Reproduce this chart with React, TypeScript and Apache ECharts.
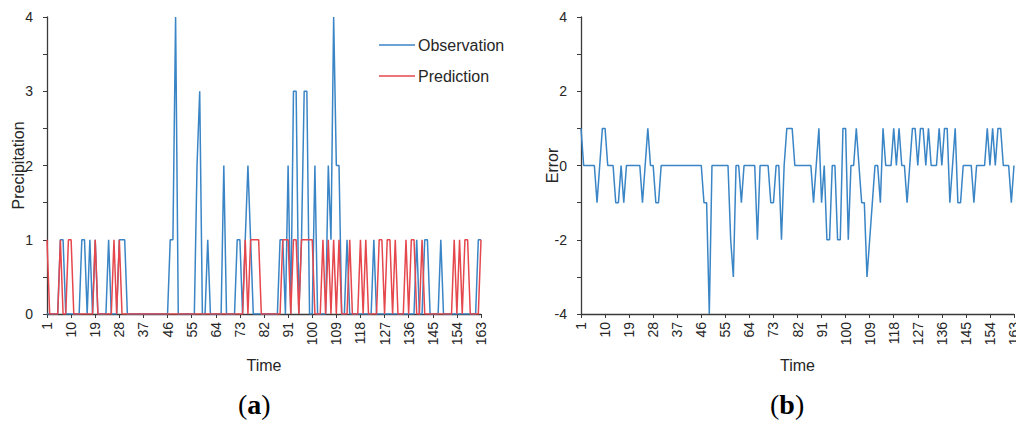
import React, { useEffect, useRef } from "react";
import * as echarts from "echarts";

// Time categories 1..163
const timeLabels: string[] = [];
for (let t = 1; t <= 163; t++) timeLabels.push(String(t));

// Observed precipitation (panel a, blue)
const observation = [
  0, 0, 0, 0, 0, 1, 1, 0, 0, 0,
  0, 0, 0, 1, 1, 0, 1, 0, 1, 0,
  0, 0, 0, 1, 0, 0, 0, 1, 1, 1,
  0, 0, 0, 0, 0, 0, 0, 0, 0, 0,
  0, 0, 0, 0, 0, 0, 1, 1, 4, 0,
  0, 0, 0, 0, 0, 0, 2, 3, 0, 0,
  1, 0, 0, 0, 0, 0, 2, 0, 0, 0,
  0, 1, 1, 0, 1, 2, 1, 0, 0, 0,
  0, 0, 0, 0, 0, 0, 0, 1, 1, 0,
  2, 0, 3, 3, 0, 1, 3, 3, 0, 0,
  2, 0, 0, 0, 0, 2, 1, 4, 2, 2,
  0, 0, 1, 0, 0, 0, 0, 0, 0, 0,
  0, 0, 1, 0, 0, 0, 0, 0, 0, 0,
  0, 0, 0, 0, 0, 0, 0, 0, 1, 0,
  0, 1, 1, 0, 0, 0, 0, 1, 0, 0,
  0, 0, 0, 0, 0, 0, 0, 0, 0, 0,
  0, 1, 1,
];

// Predicted precipitation (panel a, red)
const prediction = [
  1, 0, 0, 0, 0, 1, 0, 0, 1, 1,
  0, 0, 0, 0, 0, 0, 0, 0, 1, 0,
  0, 0, 0, 0, 0, 1, 0, 1, 0, 0,
  0, 0, 0, 0, 0, 0, 0, 0, 0, 0,
  0, 0, 0, 0, 0, 0, 0, 0, 0, 0,
  0, 0, 0, 0, 0, 0, 0, 0, 0, 0,
  0, 0, 0, 0, 0, 0, 0, 0, 0, 0,
  0, 0, 0, 0, 1, 0, 1, 1, 1, 1,
  0, 0, 0, 0, 0, 0, 0, 0, 1, 1,
  1, 0, 1, 1, 0, 1, 1, 1, 1, 1,
  0, 0, 0, 1, 0, 1, 0, 1, 0, 1,
  0, 0, 0, 1, 0, 0, 0, 1, 0, 1,
  0, 0, 0, 0, 1, 1, 0, 1, 1, 0,
  1, 0, 0, 0, 1, 0, 1, 1, 0, 0,
  1, 0, 0, 0, 0, 0, 0, 0, 0, 0,
  0, 0, 1, 0, 1, 0, 1, 1, 0, 0,
  0, 0, 1,
];

// Error (panel b)
const errorValues = [
  1, 0, 0, 0, 0, 0, -1, 0, 1, 1,
  0, 0, 0, -1, -1, 0, -1, 0, 0, 0,
  0, 0, 0, -1, 0, 1, 0, 0, -1, -1,
  0, 0, 0, 0, 0, 0, 0, 0, 0, 0,
  0, 0, 0, 0, 0, 0, -1, -1, -4, 0,
  0, 0, 0, 0, 0, 0, -2, -3, 0, 0,
  -1, 0, 0, 0, 0, 0, -2, 0, 0, 0,
  0, -1, -1, 0, 0, -2, 0, 1, 1, 1,
  0, 0, 0, 0, 0, 0, 0, -1, 0, 1,
  -1, 0, -2, -2, 0, 0, -2, -2, 1, 1,
  -2, 0, 0, 1, 0, -1, -1, -3, -2, -1,
  0, 0, -1, 1, 0, 0, 0, 1, 0, 1,
  0, 0, -1, 0, 1, 1, 0, 1, 1, 0,
  1, 0, 0, 0, 1, 0, 1, 1, -1, 0,
  1, -1, -1, 0, 0, 0, 0, -1, 0, 0,
  0, 0, 1, 0, 1, 0, 1, 1, 0, 0,
  0, -1, 0,
];

const BLUE = "#3a85c6";
const RED = "#e5474d";
const AXIS = "#3a3a3a";
const TXT = "#262626";
const FONT = "'Liberation Sans', Arial, sans-serif";

function xAxisCfg(gridIndex: number) {
  return {
    type: "category" as const,
    gridIndex,
    data: timeLabels,
    boundaryGap: false,
    name: "Time",
    nameLocation: "middle" as const,
    nameGap: 43,
    nameMoveOverlap: false,
    nameTextStyle: { fontSize: 16, color: TXT, fontFamily: FONT },
    axisLine: { onZero: false, lineStyle: { color: AXIS, width: 1.3 } },
    axisTick: { show: true, interval: 8, length: 4, lineStyle: { color: AXIS } },
    axisLabel: {
      interval: 8,
      rotate: 90,
      fontSize: 14,
      color: TXT,
      fontFamily: FONT,
      margin: 8,
      hideOverlap: false,
    },
    splitLine: { show: false },
  };
}

function yAxisCfg(gridIndex: number, name: string, min: number, max: number, interval: number, fmt: (v: number) => string) {
  return {
    type: "value" as const,
    gridIndex,
    min,
    max,
    interval,
    name,
    nameLocation: "middle" as const,
    nameGap: 21,
    nameMoveOverlap: false,
    nameTextStyle: { fontSize: 16, color: TXT, fontFamily: FONT },
    axisLine: { show: true, lineStyle: { color: AXIS, width: 1.3 } },
    axisTick: { show: true, length: 4, lineStyle: { color: AXIS } },
    axisLabel: { fontSize: 14, color: TXT, fontFamily: FONT, margin: 14, formatter: fmt },
    splitLine: { show: false },
  };
}

export default function App() {
  const ref = useRef<HTMLDivElement>(null);

  useEffect(() => {
    document.body.style.margin = "0";
    if (!ref.current) return;
    const chart = echarts.init(ref.current, null, { renderer: "svg" });
    const caption = (letter: string) => ({
      text: "{p|(}{b|" + letter + "}{p|)}",
      rich: {
        p: { fontSize: 28, fontFamily: "'Liberation Serif', serif", fill: "#000" },
        b: { fontSize: 28, fontWeight: "bold", fontFamily: "'Liberation Serif', serif", fill: "#000" },
      },
    });
    chart.setOption({
      animation: false,
      backgroundColor: "#ffffff",
      grid: [
        { left: 47, top: 17, width: 434, height: 297, outerBoundsMode: "none", containLabel: false },
        { left: 581, top: 17, width: 433, height: 297, outerBoundsMode: "none", containLabel: false },
      ],
      legend: {
        data: ["Observation", "Prediction"],
        orient: "vertical",
        left: 374,
        top: 32,
        icon: "rect",
        itemWidth: 36,
        itemHeight: 1.5,
        itemGap: 15,
        textStyle: { fontSize: 16, color: TXT, fontFamily: FONT, padding: [0, 0, 0, -2] },
      },
      xAxis: [xAxisCfg(0), xAxisCfg(1)],
      yAxis: [
        yAxisCfg(0, "Precipitation", 0, 4, 0.5, (v: number) => (Number.isInteger(v) ? String(v) : "")),
        yAxisCfg(1, "Error", -4, 4, 1, (v: number) => (v % 2 === 0 ? String(v) : "")),
      ],
      series: [
        {
          name: "Observation",
          type: "line",
          xAxisIndex: 0,
          yAxisIndex: 0,
          data: observation,
          symbol: "none",
          lineStyle: { color: BLUE, width: 1.5 },
          itemStyle: { color: BLUE },
          z: 2,
        },
        {
          name: "Prediction",
          type: "line",
          xAxisIndex: 0,
          yAxisIndex: 0,
          data: prediction,
          symbol: "none",
          lineStyle: { color: RED, width: 1.5 },
          itemStyle: { color: RED },
          z: 3,
        },
        {
          name: "Error",
          type: "line",
          xAxisIndex: 1,
          yAxisIndex: 1,
          data: errorValues,
          symbol: "none",
          lineStyle: { color: BLUE, width: 1.5 },
          itemStyle: { color: BLUE },
        },
      ],
      graphic: [
        { type: "text", left: 238, top: 390, style: caption("a") },
        { type: "text", left: 770, top: 390, style: caption("b") },
      ],
    });
    return () => chart.dispose();
  }, []);

  return <div ref={ref} style={{ width: 1016, height: 421 }} />;
}
